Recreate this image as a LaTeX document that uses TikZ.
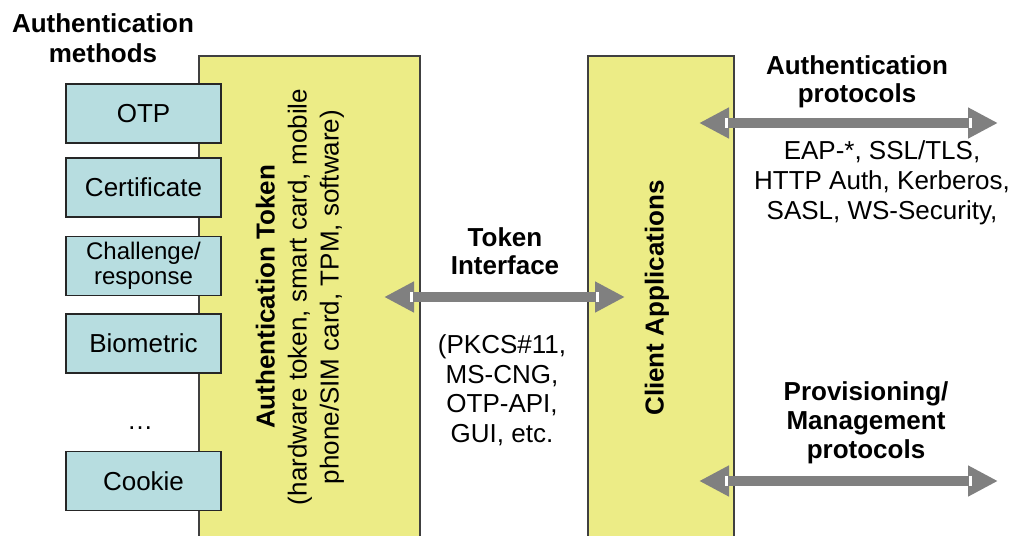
\documentclass[tikz,border=0pt]{standalone}
\usepackage{fontspec}
\setmainfont{Liberation Sans}
\usetikzlibrary{arrows.meta}

\definecolor{tokenyellow}{RGB}{236,236,134}
\definecolor{methodblue}{RGB}{183,221,224}
\definecolor{pipegray}{RGB}{128,128,128}

\tikzset{
  layerbox/.style={draw=black!75, line width=1.2pt, fill=tokenyellow,
    minimum width=#1, minimum height=489pt, inner sep=0pt},
  methodbox/.style={draw=black!85, line width=1.3pt, fill=methodblue,
    minimum width=155pt, minimum height=59pt, inner sep=0pt,
    font=\fontsize{26}{29}\selectfont},
  txt/.style={align=center, inner sep=0pt, font=\fontsize{26}{29}\selectfont},
  heading/.style={align=center, inner sep=0pt, font=\fontsize{26}{29}\selectfont\bfseries},
  pipe/.style={draw=pipegray, line width=10pt,
    {Triangle[length=30pt,width=29pt]}-{Triangle[length=30pt,width=29pt]}},
  tipgap/.style={fill=white, draw=none},
}

\begin{document}
\begin{tikzpicture}[x=1pt,y=-1pt]
\useasboundingbox (0,0) rectangle (1011,535);

% the two layers, running off the bottom edge
\node[layerbox=221pt] (token) at (309.5,300.5) {};
\node[layerbox=146pt] (client) at (661,300.5) {};

\node[txt, rotate=90, font=\fontsize{26}{32}\selectfont] (tokentext) at (300,297)
  {\textbf{Authentication Token}\\(hardware token, smart card, mobile\\phone/SIM card, TPM, software)};
\node[heading, rotate=90] (clienttext) at (657,298) {Client Applications};

% authentication methods
\node[heading, font=\fontsize{26}{30}\selectfont\bfseries] (methods) at (103,38) {Authentication\\methods};
\node[methodbox] (otp)  at (143.5,113.5) {OTP};
\node[methodbox] (cert) at (143.5,187.5) {Certificate};
\node[methodbox, align=center, font=\fontsize{24}{25}\selectfont] (chal) at (143.5,266) {Challenge/\\response};
\node[methodbox] (bio)  at (143.5,343.5) {Biometric};
\node[txt] (more) at (140,428) {…};
\node[methodbox] (cookie) at (143.5,481) {Cookie};

% token interface
\node[heading, font=\fontsize{26}{28}\selectfont\bfseries] (tiname) at (505,251) {Token\\Interface};
\node[txt, font=\fontsize{26}{29.5}\selectfont] (tilist) at (502,390) {(PKCS\#11,\\MS-CNG,\\OTP-API,\\GUI, etc.};

% protocols on the right
\node[heading, font=\fontsize{26}{28}\selectfont\bfseries] (authproto) at (857,82) {Authentication\\protocols};
\node[txt, font=\fontsize{26}{30}\selectfont] (authlist) at (882,183) {EAP-*, SSL/TLS,\\HTTP Auth, Kerberos,\\SASL, WS-Security,};
\node[heading] (provproto) at (866,423) {Provisioning/\\Management\\protocols};

% connector end points
\coordinate (ti-l) at (384,297);
\coordinate (ti-r) at (625,297);
\coordinate (ap-l) at (699,123);
\coordinate (ap-r) at (998,123);
\coordinate (pp-l) at (699,481);
\coordinate (pp-r) at (998,481);

\draw[pipe] (ti-l) -- (ti-r);
\draw[pipe] (ap-l) -- (ap-r);
\draw[pipe] (pp-l) -- (pp-r);

% thin light seams where the heads meet the shafts
\foreach \a/\b in {ti-l/ti-r, ap-l/ap-r, pp-l/pp-r}{
  \fill[tipgap] ([xshift=26pt,yshift=-5pt]\a) rectangle ([xshift=29pt,yshift=5pt]\a);
  \fill[tipgap] ([xshift=-29pt,yshift=-5pt]\b) rectangle ([xshift=-26pt,yshift=5pt]\b);
}
\end{tikzpicture}
\end{document}
